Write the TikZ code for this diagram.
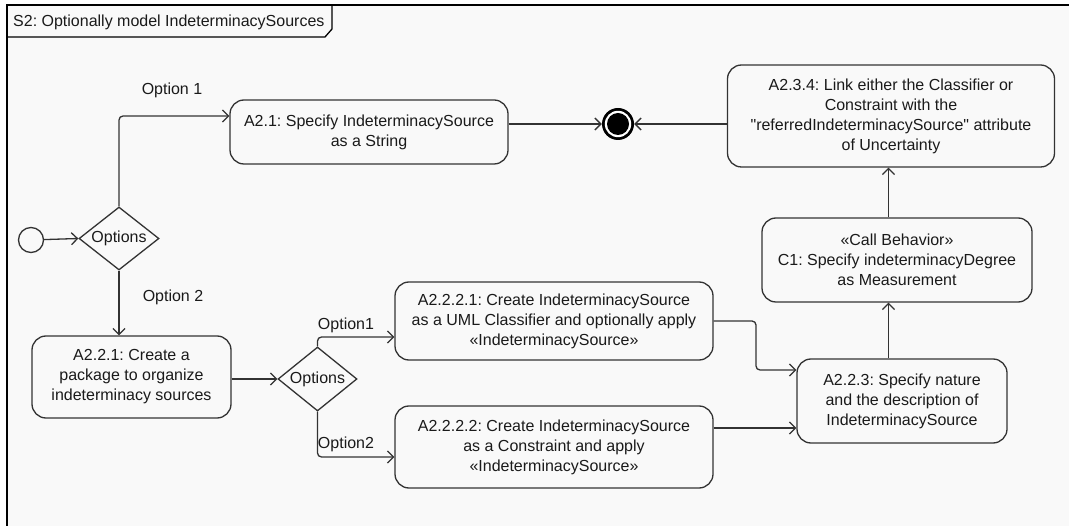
\documentclass[tikz,border=0pt]{standalone}
\usepackage{fontspec}
\setmainfont{Liberation Sans}[Ligatures=TeXOff]
\usetikzlibrary{arrows.meta,shapes.geometric}
\definecolor{bg}{HTML}{F9F9F9}
\definecolor{ln}{HTML}{333333}
\definecolor{tx}{HTML}{1A1A1A}
\tikzset{
  act/.style={draw=ln, line width=1.3pt, rounded corners=14pt, align=center, text=tx,
    font=\fontsize{16pt}{20pt}\selectfont, inner sep=0pt},
  dec/.style={draw=ln, line width=1.3pt, diamond, minimum width=80pt, minimum height=63pt, inner sep=0pt},
  lbl/.style={text=tx, font=\fontsize{16pt}{20pt}\selectfont, inner sep=0pt},
  arr/.style={draw=ln, line width=1.3pt, rounded corners=4pt, -{Straight Barb[length=6pt,width=12pt]}},
}
\begin{document}
\frenchspacing
\begin{tikzpicture}[x=1pt,y=-1pt]
\useasboundingbox (0,0) rectangle (1069,526);
\fill[white] (0,0) rectangle (1069,526);
\fill[bg] (7,5) rectangle (1069,526);
\draw[line width=1.6pt] (7,530) -- (7,5) -- (1075,5);
\draw[line width=1.3pt] (7,37) -- (325,37) -- (332,29) -- (332,5);
\node[lbl, anchor=base west] (title) at (13,27) {S2: Optionally model IndeterminacySources};

% nodes
\node[draw=ln, line width=1.3pt, circle, minimum size=25pt, inner sep=0pt] (init) at (31,240) {};
\node[dec, label={[lbl]center:Options}] (d1) at (119,238.5) {};
\node[act, minimum width=278pt, minimum height=64pt] (a21) at (369,132) {A2.1: Specify IndeterminacySource\\as a String};
\node[circle, fill=black, minimum size=32pt, inner sep=0pt] (final) at (618,124) {};
\fill[white] (final.center) circle (13.2pt);
\fill[black] (final.center) circle (11pt);
\node[act, minimum width=327pt, minimum height=102pt] (a234) at (891,116) {A2.3.4: Link either the Classifier or\\Constraint with the\\"referredIndeterminacySource" attribute\\of Uncertainty};
\node[act, minimum width=270pt, minimum height=84pt] (c1) at (897,260) {«Call Behavior»\\C1: Specify indeterminacyDegree\\as Measurement};
\node[act, minimum width=210pt, minimum height=84pt] (a223) at (902,401) {A2.2.3: Specify nature\\and the description of\\IndeterminacySource};
\node[act, minimum width=199pt, minimum height=82pt] (a221) at (131.5,377) {A2.2.1: Create a\\package to organize\\indeterminacy sources};
\node[dec, minimum width=79pt, minimum height=64pt, label={[lbl]center:Options}] (d2) at (317.5,379) {};
\node[act, minimum width=318pt, minimum height=78pt] (a2221) at (554,321) {A2.2.2.1: Create IndeterminacySource\\as a UML Classifier and optionally apply\\«IndeterminacySource»};
\node[act, minimum width=318pt, minimum height=82pt] (a2222) at (554,447) {A2.2.2.2: Create IndeterminacySource\\as a Constraint and apply\\«IndeterminacySource»};

% labels
\node[lbl] (o1) at (172,90) {Option 1};
\node[lbl] (o2) at (173,297) {Option 2};
\node[lbl] (o21) at (346,325) {Option1};
\node[lbl] (o22) at (346,444) {Option2};

% helper coordinates
\coordinate (y1) at (0,116);
\coordinate (vx) at (888.5,0);
\coordinate (y2) at (0,337);
\coordinate (y3) at (0,457);
\coordinate (j1) at (756,370);
\coordinate (y4) at (0,428);

% connectors
\draw[arr] (init) -- (d1.west);
\draw[arr] (d1.north) |- (a21.west |- y1);
\draw[arr] (a21.east |- final) -- (final);
\draw[arr] (a234.west |- final) -- (final);
\draw[arr] (c1.north -| vx) -- (a234.south -| vx);
\draw[arr] (a223.north -| vx) -- (c1.south -| vx);
\draw[arr] (d1.south) -- (a221.north -| d1.south);
\draw[arr] (a221.east |- d2.west) -- (d2.west);
\draw[arr] (d2.north) |- (a2221.west |- y2);
\draw[arr] (d2.south) |- (a2222.west |- y3);
\draw[arr] (a2221.east) -| (j1) -- (a223.west |- j1);
\draw[arr] (a2222.east |- y4) -- (a223.west |- y4);
\end{tikzpicture}
\end{document}
